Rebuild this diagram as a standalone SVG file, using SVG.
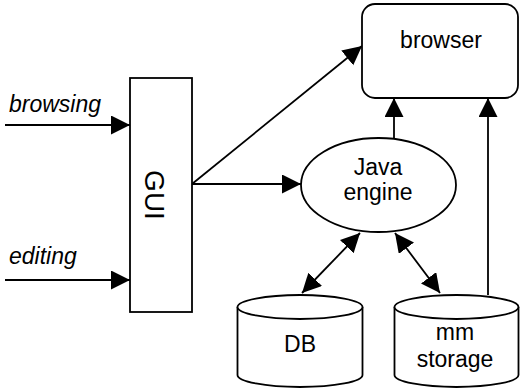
<svg xmlns="http://www.w3.org/2000/svg" width="520" height="390" viewBox="0 0 520 390">
<defs>
<marker id="ah" markerUnits="userSpaceOnUse" markerWidth="20" markerHeight="20" refX="19" refY="9.5" orient="auto-start-reverse">
<path d="M0,0 L19,9.5 L0,19 z" fill="#000"/>
</marker>
<style>
.s{fill:#fff;stroke:#000;stroke-width:1.8}
.c{fill:none;stroke:#000;stroke-width:1.8;marker-end:url(#ah)}
.d{fill:none;stroke:#000;stroke-width:1.8;marker-start:url(#ah);marker-end:url(#ah)}
.t{font-family:"Liberation Sans",Arial,sans-serif;font-size:23px;fill:#000;text-anchor:middle}
.i{font-family:"Liberation Sans",Arial,sans-serif;font-size:23px;font-style:italic;fill:#000}
</style>
</defs>
<rect width="520" height="390" fill="#fff"/>
<g id="connectors">
<line class="c" x1="5" y1="125" x2="130" y2="125"/>
<line class="c" x1="5" y1="280" x2="130" y2="280"/>
<line class="c" x1="192" y1="184" x2="362" y2="46"/>
<line class="c" x1="192" y1="184" x2="301" y2="184"/>
<line class="c" x1="394" y1="139" x2="394" y2="98"/>
<line class="c" x1="488" y1="295" x2="488" y2="98"/>
<line class="d" x1="302" y1="293" x2="360" y2="233"/>
<line class="d" x1="395" y1="233" x2="440" y2="293"/>
</g>
<g id="labels">
<text class="i" x="9" y="112">browsing</text>
<text class="i" x="9" y="264">editing</text>
</g>
<g id="gui">
<rect class="s" x="130" y="78" width="62" height="234"/>
<text class="t" x="145" y="195" style="font-size:28px" transform="rotate(90 145 195)">GUI</text>
</g>
<g id="browser">
<rect class="s" x="362" y="4" width="156" height="94" rx="13"/>
<text class="t" x="441" y="48">browser</text>
</g>
<g id="java-engine">
<ellipse class="s" cx="378.5" cy="185" rx="77.5" ry="47"/>
<text class="t" x="378" y="175">Java</text>
<text class="t" x="378" y="200">engine</text>
</g>
<g id="db">
<path class="s" d="M237.5,307 L237.5,375 A62.5,12 0 0 0 362.5,375 L362.5,307"/>
<ellipse class="s" cx="300" cy="307" rx="62.5" ry="12"/>
<text class="t" x="300" y="352">DB</text>
</g>
<g id="mm-storage">
<path class="s" d="M394.5,307 L394.5,375 A62,12 0 0 0 518.5,375 L518.5,307"/>
<ellipse class="s" cx="456.5" cy="307" rx="62" ry="12"/>
<text class="t" x="455" y="340">mm</text>
<text class="t" x="455" y="367">storage</text>
</g>
</svg>
